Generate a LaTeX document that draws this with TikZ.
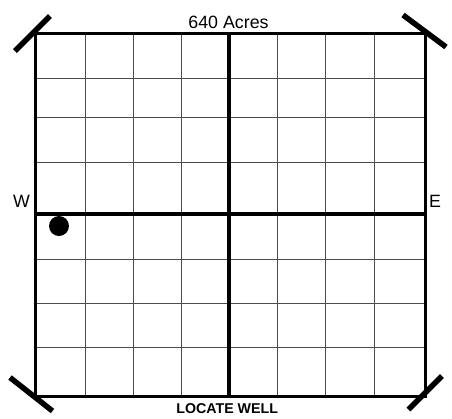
\documentclass[tikz,border=0pt]{standalone}
\usepackage{fontspec}
\setmainfont{Liberation Sans}
\begin{document}
\begin{tikzpicture}[x=1pt,y=-1pt,
  gridline/.style={draw=black!70,line width=1pt},
  border/.style={draw=black,line width=3pt},
  axisline/.style={draw=black,line width=4.5pt},
  cornertick/.style={draw=black,line width=5.5pt},
  lbl/.style={font=\fontsize{17.8}{20}\selectfont,anchor=base,inner sep=0pt},
  boldlbl/.style={font=\fontsize{14.2}{16}\selectfont\bfseries,anchor=base,inner sep=0pt}]
\useasboundingbox (0,0) rectangle (452,418);
\fill[white] (0,0) rectangle (452,418);
% grid
\foreach \gx in {85,133,181.5,277,325,374}
  \draw[gridline] (\gx,33) -- (\gx,396);
\foreach \gy in {78,117.5,162,259,303,347}
  \draw[gridline] (35,\gy) -- (425,\gy);
% center lines
\draw[axisline] (229,33) -- (229,396);
\draw[axisline] (35,214) -- (425,214);
% border
\draw[border] (35,33) rectangle (425,396);
% corner ticks
\draw[cornertick] (15,51) -- (50,16);
\draw[cornertick] (403,15) -- (446,47);
\draw[cornertick] (10,377.5) -- (52.5,411);
\draw[cornertick] (442,376) -- (408.5,409.5);
% well
\fill[black] (59,226) circle (10);
% labels
\node[lbl] (acres) at (228.5,28.3) {640 Acres};
\node[lbl] (west) at (21.5,207.3) {W};
\node[lbl] (east) at (435,207.5) {E};
\node[boldlbl] (locate) at (227.2,413.3) {LOCATE WELL};
\end{tikzpicture}
\end{document}
